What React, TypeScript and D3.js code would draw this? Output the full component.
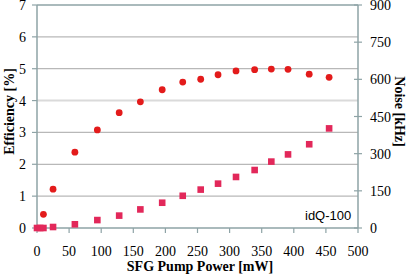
import React from "react";
import * as d3 from "d3";

const powerEff = [10, 25, 59, 94, 128, 161, 195, 227, 255, 282, 310, 339, 365, 391, 424, 455];
const efficiency = [0.43, 1.22, 2.38, 3.08, 3.62, 3.96, 4.34, 4.58, 4.67, 4.81, 4.93, 4.97, 4.99, 4.98, 4.83, 4.73];
const powerNoise = [0, 5, 10, 25, 59, 94, 128, 161, 195, 227, 255, 282, 310, 339, 365, 391, 424, 455];
const noise = [0, 0, 0, 4, 15, 32, 50, 75, 102, 130, 155, 179, 206, 234, 268, 297, 338, 402];
const xTicks = [0, 50, 100, 150, 200, 250, 300, 350, 400, 450, 500];
const yLeftTicks = [0, 1, 2, 3, 4, 5, 6, 7];
const yRightTicks = [0, 150, 300, 450, 600, 750, 900];

const W = 409, H = 277;
const L = 37, R = 358, T = 5, B = 228;
const axisColor = "#8ea3a6";
const serif = "'Liberation Serif', 'DejaVu Serif', serif";

export default function App() {
  const x = d3.scaleLinear().domain([0, 500]).range([L, R]);
  const yL = d3.scaleLinear().domain([0, 7]).range([B, T]);
  const yR = d3.scaleLinear().domain([0, 900]).range([B, T]);
  return (
    <svg width={W} height={H} style={{ position: "absolute", left: 0, top: 0, background: "#fff" }}>
      {yLeftTicks.filter(t => t > 0 && t < 7).map(t => (
        <line key={"g" + t} x1={L} x2={R} y1={yL(t)} y2={yL(t)}
          stroke={t === 4 ? "#dadada" : "#b8b8b8"} strokeWidth={t === 4 ? 2 : 1.2} />
      ))}
      {/* frame */}
      <line x1={L} x2={R} y1={T} y2={T} stroke={axisColor} strokeWidth={1.5} />
      <line x1={L} x2={L} y1={T} y2={B} stroke={axisColor} strokeWidth={1.5} />
      <line x1={R} x2={R} y1={T} y2={B} stroke={axisColor} strokeWidth={1.5} />
      <line x1={L} x2={R} y1={B} y2={B} stroke={axisColor} strokeWidth={1.5} />
      {/* x ticks */}
      {xTicks.map(t => (
        <g key={"x" + t}>
          <line x1={x(t)} x2={x(t)} y1={B} y2={B + 5} stroke={axisColor} strokeWidth={1.2} />
          <text x={x(t)} y={256} textAnchor="middle" fontFamily={serif} fontSize={14} fill="#000">{t}</text>
        </g>
      ))}
      {/* left ticks */}
      {yLeftTicks.map(t => (
        <g key={"l" + t}>
          <line x1={L - 5} x2={L} y1={yL(t)} y2={yL(t)} stroke={axisColor} strokeWidth={1.2} />
          <text x={26} y={yL(t) + 5} textAnchor="end" fontFamily={serif} fontSize={14} fill="#000">{t}</text>
        </g>
      ))}
      {/* right ticks */}
      {yRightTicks.map(t => (
        <g key={"r" + t}>
          <line x1={R - 4} x2={R + 4} y1={yR(t)} y2={yR(t)} stroke={axisColor} strokeWidth={1.2} />
          <text x={370} y={yR(t) + 5} textAnchor="start" fontFamily={serif} fontSize={14} fill="#000">{t}</text>
        </g>
      ))}
      {/* noise squares */}
      {powerNoise.map((p, i) => (
        <rect key={"n" + i} x={x(p) - 3.3} y={yR(noise[i]) - 3.3} width={6.6} height={6.6} fill="#e2285a" />
      ))}
      {/* efficiency circles */}
      {powerEff.map((p, i) => (
        <circle key={"e" + i} cx={x(p)} cy={yL(efficiency[i])} r={3.4} fill="#e31b1b" />
      ))}
      <text x={305} y={220} fontFamily="'Liberation Sans', Arial, sans-serif" fontSize={13} fill="#000">idQ-100</text>
      <text x={200} y={271} textAnchor="middle" fontFamily={serif} fontWeight="bold" fontSize={14} fill="#000">SFG Pump Power [mW]</text>
      <text transform={`translate(14,${(T + B) / 2 - 5}) rotate(-90)`} textAnchor="middle" fontFamily={serif} fontWeight="bold" fontSize={14} fill="#000">Efficiency [%]</text>
      <text transform={`translate(395,${(T + B) / 2 - 5}) rotate(90)`} textAnchor="middle" fontFamily={serif} fontWeight="bold" fontSize={14} fill="#000">Noise [kHz]</text>
    </svg>
  );
}
